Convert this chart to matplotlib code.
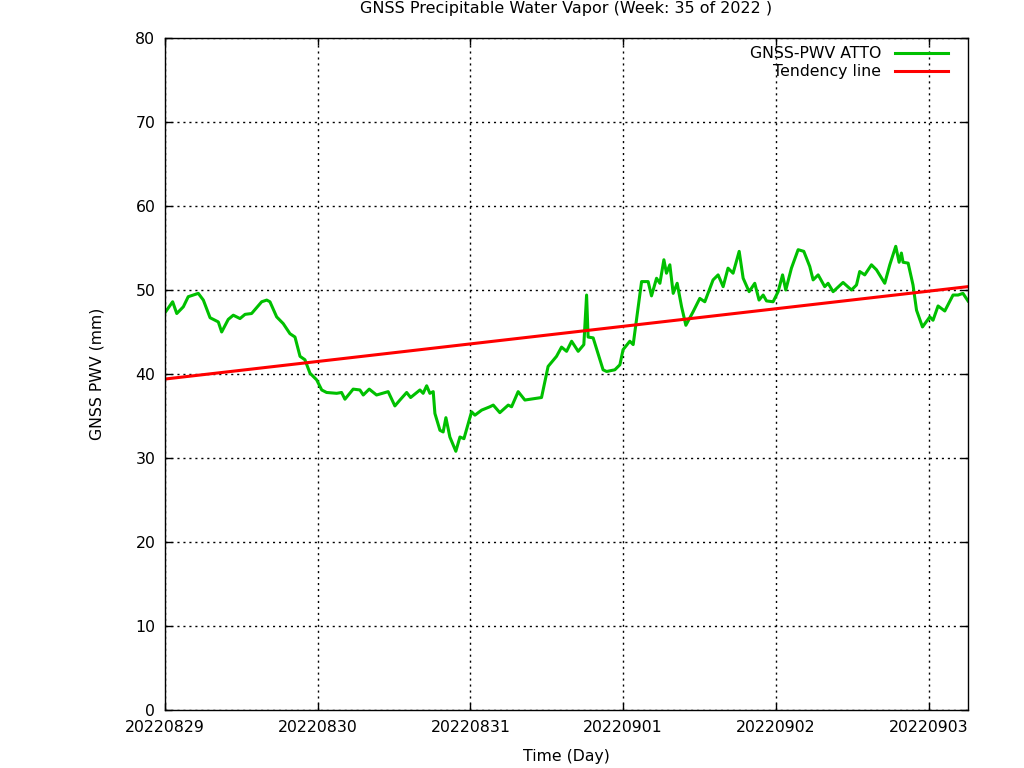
import numpy as np
import matplotlib
matplotlib.use('Agg')
import matplotlib.pyplot as plt

# days since 2022-08-29 00:00 and PWV in mm
day_offset = [0.000, 0.050, 0.077, 0.120, 0.152, 0.218, 0.251, 0.295, 0.349, 0.371,
              0.414, 0.447, 0.491, 0.524, 0.567, 0.633, 0.666, 0.687, 0.731, 0.774,
              0.818, 0.851, 0.884, 0.916, 0.949, 0.993, 1.026, 1.058, 1.124, 1.156,
              1.178, 1.232, 1.276, 1.298, 1.337, 1.385, 1.461, 1.505, 1.538, 1.582,
              1.608, 1.669, 1.690, 1.713, 1.734, 1.756, 1.767, 1.800, 1.821, 1.839,
              1.865, 1.904, 1.931, 1.957, 2.007, 2.029, 2.073, 2.127, 2.149, 2.192,
              2.247, 2.269, 2.312, 2.356, 2.465, 2.508, 2.563, 2.596, 2.629, 2.662,
              2.705, 2.742, 2.760, 2.770, 2.803, 2.868, 2.891, 2.945, 2.978, 2.999,
              3.043, 3.065, 3.098, 3.120, 3.163, 3.185, 3.218, 3.240, 3.266, 3.283,
              3.305, 3.327, 3.353, 3.382, 3.410, 3.457, 3.501, 3.534, 3.588, 3.621,
              3.654, 3.686, 3.719, 3.759, 3.785, 3.824, 3.861, 3.889, 3.916, 3.938,
              3.981, 4.014, 4.043, 4.064, 4.101, 4.145, 4.182, 4.221, 4.243, 4.276,
              4.319, 4.341, 4.374, 4.439, 4.494, 4.527, 4.548, 4.581, 4.625, 4.658,
              4.712, 4.745, 4.784, 4.806, 4.821, 4.832, 4.865, 4.897, 4.920, 4.959,
              5.007, 5.028, 5.061, 5.105, 5.159, 5.192, 5.224, 5.257]
pwv = [47.3, 48.6, 47.2, 48.0, 49.2, 49.6, 48.8, 46.7, 46.2, 45.0,
       46.5, 47.0, 46.6, 47.1, 47.2, 48.6, 48.8, 48.6, 46.8, 46.0,
       44.8, 44.4, 42.1, 41.7, 40.1, 39.3, 38.1, 37.8, 37.7, 37.8,
       37.0, 38.2, 38.1, 37.5, 38.2, 37.5, 37.9, 36.2, 36.9, 37.8,
       37.2, 38.1, 37.7, 38.6, 37.7, 37.9, 35.3, 33.3, 33.1, 34.8,
       32.5, 30.8, 32.5, 32.3, 35.5, 35.1, 35.7, 36.1, 36.3, 35.4,
       36.3, 36.1, 37.9, 36.9, 37.2, 40.9, 42.1, 43.2, 42.7, 43.9,
       42.7, 43.5, 49.4, 44.4, 44.3, 40.5, 40.3, 40.5, 41.1, 42.9,
       43.9, 43.5, 48.0, 51.0, 51.0, 49.3, 51.4, 50.8, 53.6, 52.0,
       53.0, 49.6, 50.8, 48.0, 45.8, 47.4, 49.0, 48.6, 51.2, 51.8,
       50.4, 52.6, 52.0, 54.6, 51.4, 49.8, 50.8, 48.8, 49.4, 48.7,
       48.6, 49.8, 51.8, 50.0, 52.6, 54.8, 54.6, 52.8, 51.2, 51.8,
       50.4, 50.8, 49.8, 50.9, 50.0, 50.6, 52.2, 51.8, 53.0, 52.4,
       50.8, 53.0, 55.2, 53.3, 54.4, 53.3, 53.2, 50.6, 47.6, 45.6,
       46.8, 46.4, 48.1, 47.5, 49.4, 49.4, 49.6, 48.7]

trend_start, trend_end = 39.4, 50.4
day_labels = ['20220829', '20220830', '20220831', '20220901', '20220902', '20220903']

plt.rcParams['font.family'] = 'DejaVu Sans'
plt.rcParams['font.size'] = 11.3

fig = plt.figure(figsize=(10.24, 7.68), dpi=100)
ax = fig.add_axes([165 / 1024, 58 / 768, 803 / 1024, 672 / 768])

x = np.array(day_offset)
ax.plot(x, pwv, color='#00c000', lw=2.2, label='GNSS-PWV ATTO')
xt = np.array([0, x[-1]])
ax.plot(xt, [trend_start, trend_end], color='#ff0000', lw=2.2, label='Tendency line')

ax.set_xlim(0, x[-1])
ax.set_ylim(0, 80)
ax.set_xticks(range(len(day_labels)))
ax.set_xticklabels(day_labels)
ax.set_yticks(range(0, 81, 10))
ax.tick_params(direction='in', top=True, right=True, length=5, width=1, pad=7)
ax.grid(True, color='black', linestyle=(0, (1.5, 2.8)), linewidth=1)
for s in ax.spines.values():
    s.set_linewidth(1)

ax.set_title('GNSS Precipitable Water Vapor (Week: 35 of 2022 )', fontsize=11.5, pad=18)
ax.set_xlabel('Time (Day)', labelpad=10)
ax.set_ylabel('GNSS PWV (mm)', labelpad=22)

ax.legend(loc='upper right', bbox_to_anchor=(1 - 20 / 803, 1 - 8 / 672),
          frameon=False, markerfirst=False, handlelength=3.4, borderpad=0,
          borderaxespad=0, labelspacing=0.2, handletextpad=0.85)

fig.savefig('out.png', dpi=100)
